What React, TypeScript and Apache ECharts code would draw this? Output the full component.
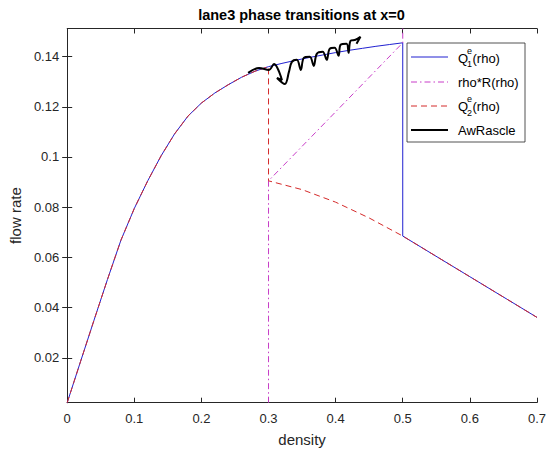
import React, { useEffect, useRef } from "react";
import * as echarts from "echarts";

// Q1e(rho): solid blue
const rhoQ1 = [0, 0.02, 0.04, 0.06, 0.08, 0.1, 0.12, 0.14, 0.16, 0.18, 0.2, 0.22, 0.24, 0.26, 0.28, 0.3, 0.32, 0.34, 0.36, 0.38, 0.4, 0.42, 0.44, 0.46, 0.48, 0.5, 0.5, 0.6, 0.7];
const q1 = [0.0021, 0.0186, 0.035, 0.0512, 0.0668, 0.0795, 0.0905, 0.1005, 0.1092, 0.1163, 0.1215, 0.1255, 0.1288, 0.1318, 0.1342, 0.136, 0.1373, 0.1385, 0.1396, 0.1406, 0.1416, 0.1425, 0.1433, 0.1441, 0.1448, 0.1455, 0.0685, 0.0523, 0.0361];

// rho*R(rho): magenta dash-dot
const rhoR = [0.3, 0.3, 0.5, 0.5];
const qR = [0.0021, 0.0905, 0.1455, 0.1512];

// Q2e(rho): red dashed
const rhoQ2 = [0, 0.02, 0.04, 0.06, 0.08, 0.1, 0.12, 0.14, 0.16, 0.18, 0.2, 0.22, 0.24, 0.26, 0.28, 0.3, 0.3, 0.35, 0.4, 0.45, 0.5, 0.6, 0.7];
const q2 = [0.0021, 0.0186, 0.035, 0.0512, 0.0668, 0.0795, 0.0905, 0.1005, 0.1092, 0.1163, 0.1215, 0.1255, 0.1288, 0.1318, 0.1342, 0.136, 0.0905, 0.087, 0.082, 0.0757, 0.0685, 0.0523, 0.0361];

// AwRascle: black squiggle
const rhoAw = [0.2696, 0.2859, 0.3007, 0.3081, 0.32, 0.3126, 0.3244, 0.3304, 0.3348, 0.3422, 0.3481, 0.3526, 0.3615, 0.3674, 0.3719, 0.3807, 0.3867, 0.3911, 0.3985, 0.4044, 0.4074, 0.4163, 0.4193, 0.4222, 0.4296, 0.437, 0.4311];
const qAw = [0.1335, 0.1355, 0.1347, 0.1371, 0.1307, 0.1315, 0.1291, 0.1339, 0.1379, 0.1387, 0.1347, 0.1395, 0.1399, 0.1363, 0.1411, 0.1419, 0.1387, 0.1431, 0.1435, 0.1403, 0.1447, 0.1451, 0.1415, 0.1463, 0.1467, 0.1479, 0.1451];

const xTicks = [0, 0.1, 0.2, 0.3, 0.4, 0.5, 0.6, 0.7];
const yTicks = [0.02, 0.04, 0.06, 0.08, 0.1, 0.12, 0.14];

const FONT = "Liberation Sans, Arial, Helvetica, sans-serif";
const AX = "#262626";
const BLUE = "#2020d0";
const MAG = "#c83cc8";
const RED = "#d42a2a";

const zip = (xs: number[], ys: number[]) => xs.map((x, i) => [x, ys[i]]);

export default function App() {
  const ref = useRef<HTMLDivElement>(null);
  useEffect(() => {
    if (!ref.current) return;
    const chart = echarts.init(ref.current, undefined, { renderer: "svg" });
    const axLine = { show: true, lineStyle: { color: AX, width: 1 } };
    const tick = { show: true, inside: true, length: 5, lineStyle: { color: AX, width: 1 } };
    const txt = (x: number, y: number, text: string, size: number, extra: any = {}) => ({
      type: "text",
      x,
      y,
      z: 101,
      style: {
        text,
        fontSize: size,
        fontFamily: FONT,
        fill: "#000",
        align: "left",
        textAlign: "left",
        verticalAlign: "middle",
        textVerticalAlign: "middle",
        ...extra,
      },
    });
    const legLine = (y: number, color: string, dash?: number[], width = 1) => {
      const style: any = { stroke: color, lineWidth: width };
      if (dash) style.lineDash = dash;
      return {
        type: "line",
        z: 101,
        shape: { x1: 411, y1: y, x2: 448, y2: y },
        style,
      };
    };
    chart.setOption({
      animation: false,
      grid: { left: 65, right: 11, top: 28.5, bottom: 53.3, containLabel: false },
      xAxis: [
        {
          type: "value",
          min: 0,
          max: 0.7,
          interval: 0.1,
          position: "bottom",
          axisLine: axLine,
          axisTick: tick,
          splitLine: { show: false },
          axisLabel: {
            color: AX,
            fontSize: 13,
            fontFamily: FONT,
            margin: 9,
            customValues: xTicks,
            formatter: (v: number) => String(+v.toFixed(2)),
          },
          name: "density",
          nameLocation: "middle",
          nameGap: 29,
          nameTextStyle: { fontSize: 15, color: AX, fontFamily: FONT },
        },
        {
          type: "value",
          min: 0,
          max: 0.7,
          interval: 0.1,
          position: "top",
          axisLine: axLine,
          axisTick: tick,
          splitLine: { show: false },
          axisLabel: { show: false },
        },
      ],
      yAxis: [
        {
          type: "value",
          min: 0.0021,
          max: 0.1512,
          position: "left",
          axisLine: axLine,
          axisTick: { ...tick, customValues: yTicks },
          splitLine: { show: false },
          axisLabel: {
            color: AX,
            fontSize: 13,
            fontFamily: FONT,
            margin: 8,
            customValues: yTicks,
            formatter: (v: number) => String(+v.toFixed(2)),
          },
          name: "flow rate",
          nameLocation: "middle",
          nameGap: 40,
          nameTextStyle: { fontSize: 15, color: AX, fontFamily: FONT },
        },
        {
          type: "value",
          min: 0.0021,
          max: 0.1512,
          position: "right",
          axisLine: axLine,
          axisTick: { ...tick, customValues: yTicks },
          splitLine: { show: false },
          axisLabel: { show: false, customValues: yTicks },
        },
      ],
      series: [
        {
          name: "Q1e(rho)",
          type: "line",
          data: zip(rhoQ1, q1),
          showSymbol: false,
          symbol: "none",
          lineStyle: { color: BLUE, width: 1 },
          z: 2,
        },
        {
          name: "rho*R(rho)",
          type: "line",
          data: zip(rhoR, qR),
          showSymbol: false,
          symbol: "none",
          lineStyle: { color: MAG, width: 1, type: [6, 3, 1.5, 3] },
          z: 3,
        },
        {
          name: "Q2e(rho)",
          type: "line",
          data: zip(rhoQ2, q2),
          showSymbol: false,
          symbol: "none",
          lineStyle: { color: RED, width: 1, type: [6, 4] },
          z: 4,
        },
        {
          name: "AwRascle",
          type: "line",
          data: zip(rhoAw, qAw),
          showSymbol: false,
          symbol: "none",
          smooth: 0.35,
          lineStyle: { color: "#000", width: 2 },
          z: 5,
        },
      ],
      graphic: [
        txt(301.5, 14.5, "lane3 phase transitions at x=0", 14.5, { fontWeight: "bold", align: "center", textAlign: "center" }),
        {
          type: "rect",
          z: 100,
          shape: { x: 407, y: 43, width: 118, height: 99 },
          style: { fill: "#fff", stroke: AX, lineWidth: 0.8 },
        },
        legLine(57, BLUE),
        legLine(82, MAG, [6, 3, 1.5, 3]),
        legLine(106, RED, [6, 4]),
        legLine(130, "#000", undefined, 2),
        txt(458, 58, "Q", 13),
        txt(467, 51, "e", 9),
        txt(467, 64, "1", 9),
        txt(472.5, 58, "(rho)", 13),
        txt(458, 82, "rho*R(rho)", 13),
        txt(458, 106, "Q", 13),
        txt(467, 99, "e", 9),
        txt(467, 112.5, "2", 9),
        txt(472.5, 106, "(rho)", 13),
        txt(458, 130, "AwRascle", 13),
      ],
    });
    return () => chart.dispose();
  }, []);
  return (
    <div
      ref={ref}
      style={{ position: "fixed", left: 0, top: 0, width: 549, height: 456, background: "#fff" }}
    />
  );
}
